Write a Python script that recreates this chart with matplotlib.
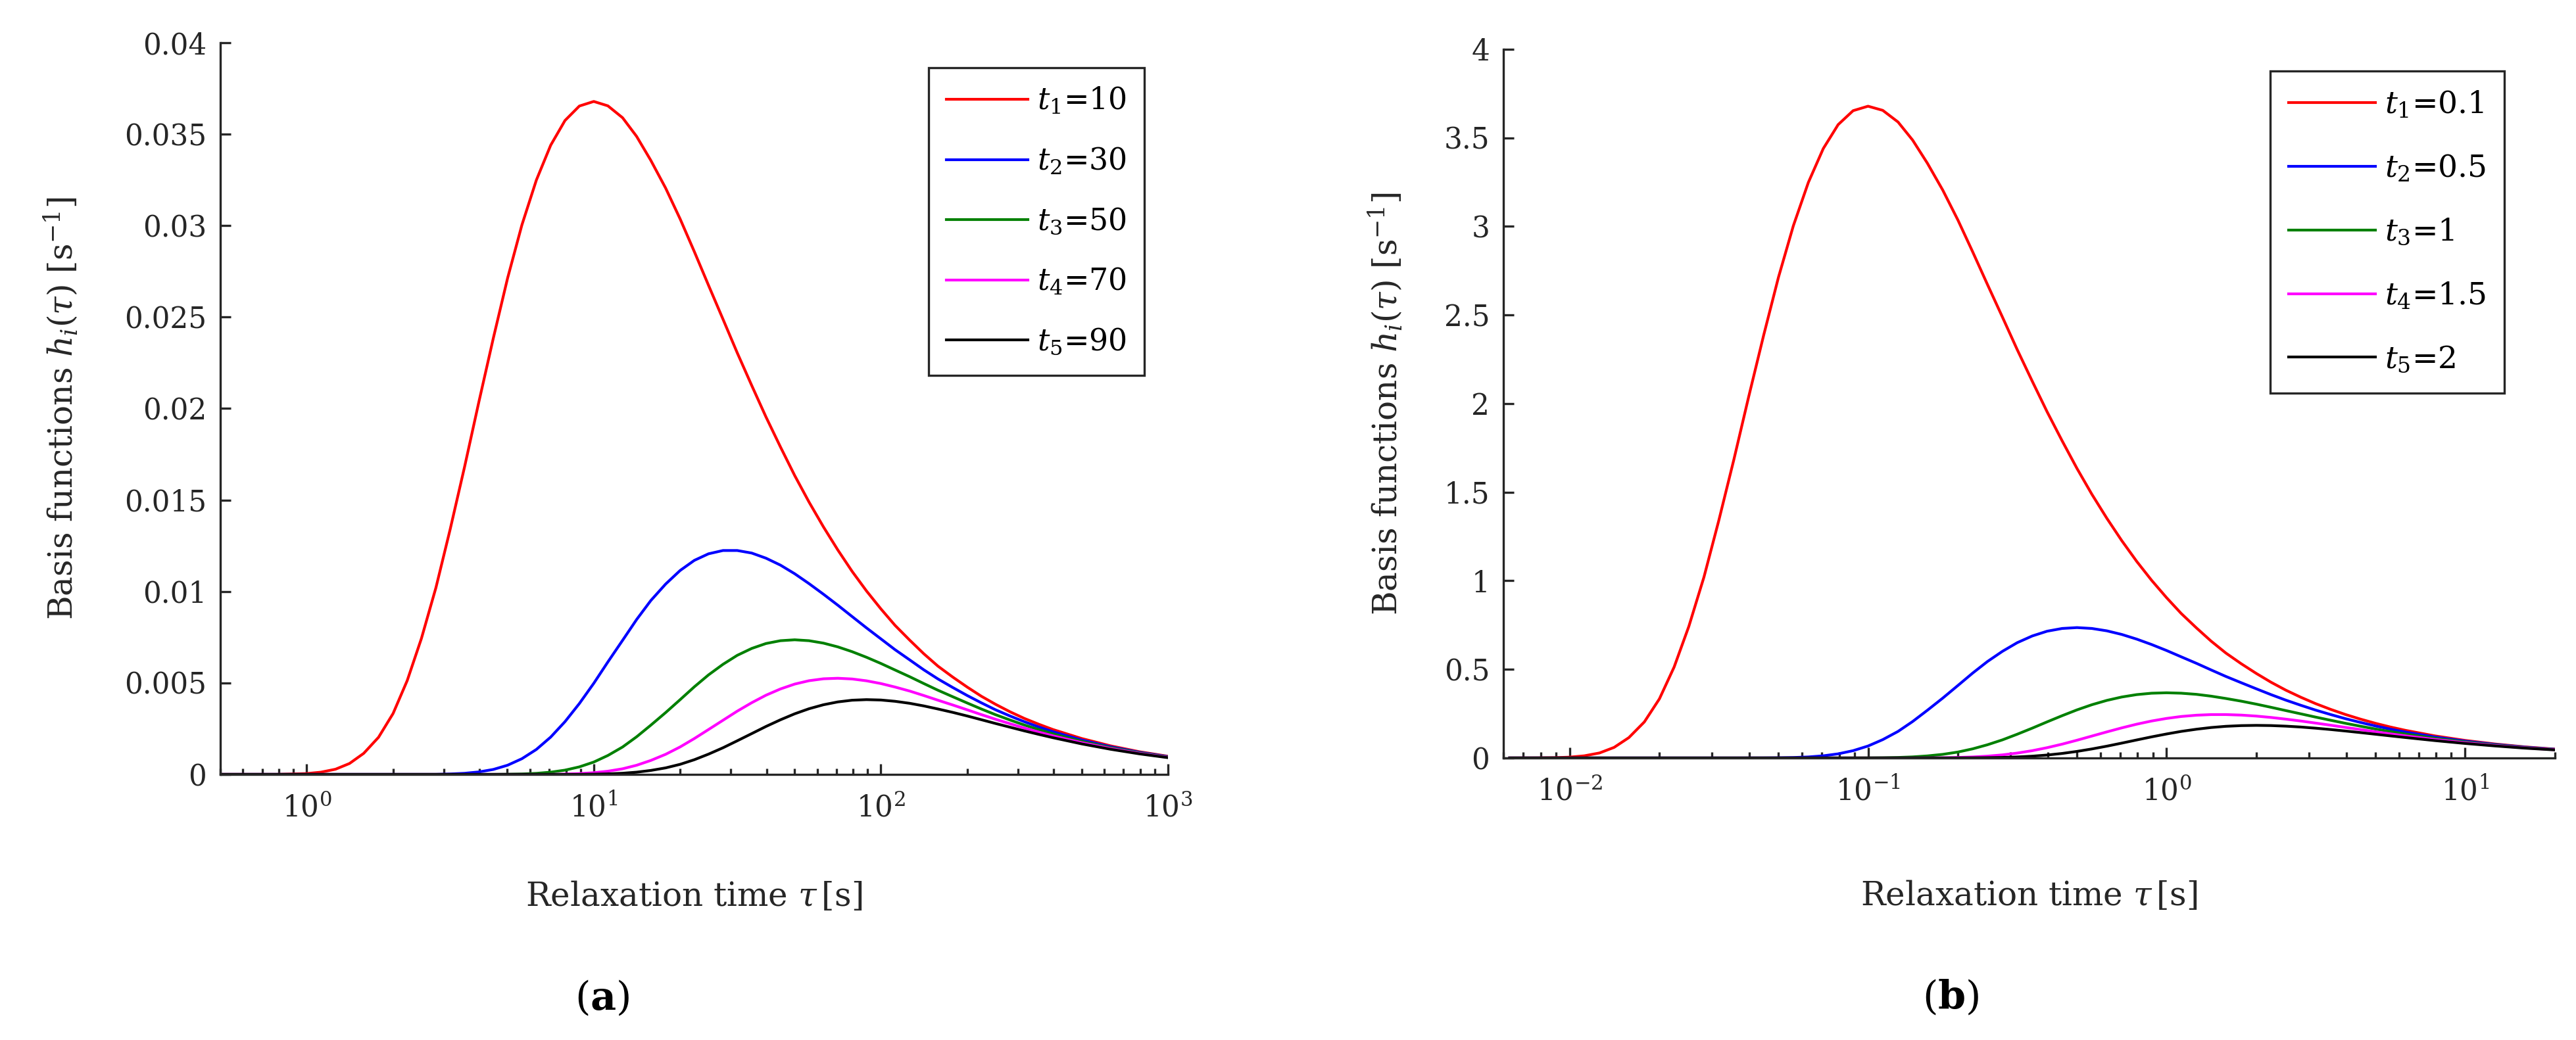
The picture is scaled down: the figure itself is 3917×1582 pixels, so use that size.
import numpy as np
import matplotlib as mpl
mpl.use('Agg')
import matplotlib.pyplot as plt
from matplotlib.ticker import LogLocator, MultipleLocator, FormatStrFormatter, NullFormatter

plt.rcParams['font.family'] = ['DejaVu Serif']
plt.rcParams['mathtext.fontset'] = 'dejavuserif'

#==============================================================
# panel (a): relaxation times and basis functions
tauA = [0.5, 0.63, 0.79,
        1.0, 1.12, 1.26, 1.41, 1.58, 1.78, 2.0, 2.24, 2.51, 2.82, 3.16, 3.55, 3.98, 4.47,
        5.01, 5.62, 6.31, 7.08, 7.94, 8.91, 10, 11.2, 12.6, 14.1, 15.8, 17.8, 20, 22.4,
        25.1, 28.2, 31.6, 35.5, 39.8, 44.7, 50.1, 56.2, 63.1, 70.8, 79.4, 89.1, 100, 112,
        126, 141, 158, 178, 200, 224, 251, 282, 316, 355,
        398, 501, 631, 794, 1000]
labA = ['$t_1$=10', '$t_2$=30', '$t_3$=50', '$t_4$=70', '$t_5$=90']
hA1 = [0.0, 0.0, 0.0,
       0.0000454, 0.00012, 0.000282, 0.000596, 0.00115, 0.00203, 0.00333, 0.00513,
       0.00743, 0.01021, 0.01339, 0.01683, 0.02037, 0.02386, 0.02713, 0.03004, 0.03249,
       0.03440, 0.03575, 0.03654, 0.03679, 0.03655, 0.03590, 0.03488, 0.03357, 0.03205,
       0.03036, 0.02858, 0.02674, 0.02488, 0.02305, 0.02126, 0.01954, 0.01790, 0.01634,
       0.01489, 0.01353, 0.01227, 0.01110, 0.01003, 0.00905, 0.00815, 0.00734, 0.00660,
       0.00592, 0.00532, 0.00477, 0.00427, 0.00383, 0.00342, 0.00306, 0.00274,
       0.00245, 0.00196, 0.00156, 0.00124, 0.00099]
hA2 = [0.0, 0.0, 0.0,
       0.0, 0.0, 0.0, 0.0, 0.0, 0.0, 0.0, 0.0, 0.0, 0.0,
       0.000024, 0.00006, 0.000134, 0.000271, 0.000501, 0.000857, 0.001363, 0.002040,
       0.002883, 0.003874, 0.004979, 0.006149, 0.007329, 0.008465, 0.009503, 0.010407,
       0.01115, 0.01170, 0.01206, 0.01224, 0.01224, 0.01210, 0.01182, 0.01144, 0.01097,
       0.01043, 0.00985, 0.00925, 0.00863, 0.00801, 0.00741, 0.00682, 0.00626, 0.00572,
       0.00522, 0.00475, 0.00431, 0.00391, 0.00353, 0.00319, 0.00288, 0.00259,
       0.00233, 0.00188, 0.00151, 0.00121, 0.00097]
hA3 = [0.0, 0.0, 0.0,
       0.0, 0.0, 0.0, 0.0, 0.0, 0.0, 0.0, 0.0, 0.0, 0.0, 0.0, 0.0, 0.0, 0.0,
       0.0000093, 0.0000245, 0.000057, 0.000121, 0.000232, 0.000411, 0.000674, 0.001034,
       0.001497, 0.002055, 0.002690, 0.003380, 0.004088, 0.004787, 0.005439, 0.006019,
       0.006508, 0.006886, 0.007155, 0.007309, 0.007358, 0.007309, 0.007176, 0.006971,
       0.006709, 0.006403, 0.006065, 0.005708, 0.005340, 0.004969, 0.004602, 0.004245,
       0.003901, 0.003573, 0.003262, 0.002971, 0.002700, 0.002448,
       0.002216, 0.001806, 0.001464, 0.001182, 0.000951]
hA4 = [0.0, 0.0, 0.0,
       0.0, 0.0, 0.0, 0.0, 0.0, 0.0, 0.0, 0.0, 0.0, 0.0, 0.0, 0.0, 0.0, 0.0, 0.0, 0.0,
       0.0, 0.0,
       0.000019, 0.0000436, 0.000091, 0.000174, 0.000306, 0.000499, 0.000762, 0.001098,
       0.001502, 0.001959, 0.002452, 0.002960, 0.003456, 0.003919, 0.004329, 0.004671,
       0.004937, 0.005121, 0.005226, 0.005255, 0.005216, 0.005116, 0.004966, 0.004776,
       0.004556, 0.004313, 0.004056, 0.003794, 0.003529, 0.003267, 0.003013, 0.002768,
       0.002534, 0.002314,
       0.002107, 0.001735, 0.001418, 0.001153, 0.000932]
hA5 = [0.0, 0.0, 0.0,
       0.0, 0.0, 0.0, 0.0, 0.0, 0.0, 0.0, 0.0, 0.0, 0.0, 0.0, 0.0, 0.0, 0.0, 0.0, 0.0,
       0.0, 0.0, 0.0, 0.0,
       0.000012, 0.0000293, 0.000062, 0.000121, 0.000216, 0.000356, 0.000551, 0.000802,
       0.001107, 0.001456, 0.001836, 0.002230, 0.002620, 0.002985, 0.003312, 0.003589,
       0.003807, 0.003962, 0.004055, 0.004087, 0.004066, 0.003996, 0.003886, 0.003744,
       0.003576, 0.003390, 0.003192, 0.002988, 0.002782, 0.002578, 0.002379, 0.002187,
       0.002004, 0.001667, 0.001374, 0.001124, 0.000914]

# panel (b)
tauB = [0.0063, 0.0071, 0.0079, 0.0089, 0.01, 0.0112, 0.0126, 0.0141, 0.0158, 0.0178,
        0.02, 0.0224, 0.0251, 0.0282, 0.0316, 0.0355, 0.0398, 0.0447, 0.0501, 0.0562,
        0.0631, 0.0708, 0.0794, 0.0891, 0.1, 0.112, 0.126, 0.141, 0.158, 0.178,
        0.2, 0.224, 0.251, 0.282, 0.316, 0.355, 0.398, 0.447, 0.501, 0.562,
        0.631, 0.708, 0.794, 0.891, 1.0, 1.12, 1.26, 1.41, 1.58, 1.78,
        2.0, 2.24, 2.51, 2.82, 3.16, 3.55, 3.98, 4.47, 5.01, 5.62,
        6.31, 7.94, 10, 12.6, 15.8, 20]
labB = ['$t_1$=0.1', '$t_2$=0.5', '$t_3$=1', '$t_4$=1.5', '$t_5$=2']
hB1 = [0.0, 0.0001, 0.00043, 0.0015, 0.00454, 0.0120, 0.0282, 0.0596, 0.1148, 0.2031,
       0.3337, 0.5130, 0.7431, 1.0211, 1.3386, 1.6827, 2.0375, 2.3863, 2.7131, 3.0040,
       3.2486, 3.4398, 3.5748, 3.6535, 3.6788, 3.6554, 3.5897, 3.4877, 3.3573, 3.2047,
       3.0362, 2.8577, 2.6737, 2.4883, 2.3049, 2.1261, 1.9539, 1.7897, 1.6344, 1.4886,
       1.3526, 1.2265, 1.1100, 1.0029, 0.9048, 0.8153, 0.7337, 0.6596, 0.5923, 0.5316,
       0.4767, 0.4272, 0.3826, 0.3424, 0.3064, 0.2740, 0.2450, 0.2189, 0.1956, 0.1747,
       0.1560, 0.1243, 0.0990, 0.0788, 0.0627, 0.0499]
hB2 = [0.0, 0.0, 0.0, 0.0, 0.0, 0.0, 0.0, 0.0, 0.0, 0.0,
       0.0, 0.0, 0.0, 0.0, 0.0, 0.0, 0.0001, 0.0003, 0.00093, 0.00245,
       0.0057, 0.0121, 0.0232, 0.0411, 0.0674, 0.1034, 0.1497, 0.2055, 0.2691, 0.3380,
       0.4090, 0.4787, 0.5439, 0.6019, 0.6506, 0.6886, 0.7154, 0.7309, 0.7358, 0.7309,
       0.7175, 0.6971, 0.6709, 0.6403, 0.6065, 0.5708, 0.5340, 0.4969, 0.4602, 0.4245,
       0.3901, 0.3573, 0.3263, 0.2971, 0.2700, 0.2448, 0.2215, 0.2002, 0.1806, 0.1627,
       0.1464, 0.1182, 0.0951, 0.0763, 0.0611, 0.0489]
hB3 = [0.0, 0.0, 0.0, 0.0, 0.0, 0.0, 0.0, 0.0, 0.0, 0.0,
       0.0, 0.0, 0.0, 0.0, 0.0, 0.0, 0.0, 0.0, 0.0, 0.0,
       0.0, 0.0, 0.00004, 0.00015, 0.00045, 0.0012, 0.00282, 0.00596, 0.01148, 0.02031,
       0.03337, 0.05130, 0.07431, 0.1021, 0.1339, 0.1683, 0.2037, 0.2386, 0.2713, 0.3004,
       0.3249, 0.3440, 0.3575, 0.3654, 0.3679, 0.3655, 0.3590, 0.3488, 0.3357, 0.3205,
       0.3036, 0.2858, 0.2674, 0.2488, 0.2305, 0.2126, 0.1954, 0.1790, 0.1634, 0.1489,
       0.1353, 0.1110, 0.0905, 0.0734, 0.0592, 0.0477]
hB4 = [0.0, 0.0, 0.0, 0.0, 0.0, 0.0, 0.0, 0.0, 0.0, 0.0,
       0.0, 0.0, 0.0, 0.0, 0.0, 0.0, 0.0, 0.0, 0.0, 0.0,
       0.0, 0.0, 0.0, 0.0, 0.0, 0.0, 0.00005, 0.00017, 0.00049, 0.00122,
       0.00272, 0.00550, 0.01014, 0.01732, 0.02754, 0.04111, 0.05802, 0.07791, 0.1000, 0.1235,
       0.1471, 0.1698, 0.1905, 0.2085, 0.2231, 0.2341, 0.2413, 0.2448, 0.2449, 0.2419,
       0.2363, 0.2286, 0.2191, 0.2084, 0.1968, 0.1847, 0.1723, 0.1600, 0.1479, 0.1362,
       0.1250, 0.1042, 0.0861, 0.0705, 0.0574, 0.0465]
hB5 = [0.0, 0.0, 0.0, 0.0, 0.0, 0.0, 0.0, 0.0, 0.0, 0.0,
       0.0, 0.0, 0.0, 0.0, 0.0, 0.0, 0.0, 0.0, 0.0, 0.0,
       0.0, 0.0, 0.0, 0.0, 0.0, 0.0, 0.0, 0.0, 0.00002, 0.00007,
       0.00022, 0.00059, 0.00139, 0.00294, 0.00566, 0.01005, 0.01650, 0.02544, 0.03691, 0.05075,
       0.06656, 0.08377, 0.1015, 0.1190, 0.1353, 0.1499, 0.1622, 0.1718, 0.1786, 0.1826,
       0.1839, 0.1828, 0.1795, 0.1745, 0.1680, 0.1604, 0.1520, 0.1431, 0.1339, 0.1246,
       0.1154, 0.0979, 0.0819, 0.0678, 0.0556, 0.0453]

clrs = ['#ff0000', '#0000ff', '#008000', '#ff00ff', '#000000']
axc = '#262626'
#==============================================================

def drawPanel(ax, tau, curves, labels, xlim, ylim, ystep, legpos, legfs, legsp, hlen,
              ylx, xly):
    for hh, cc, lb in zip(curves, clrs, labels):
        ax.plot(tau, hh, '-', color=cc, lw=1.0, label=lb)
    ax.set_xscale('log')
    ax.set_xlim(xlim)
    ax.set_ylim(ylim)
    ax.yaxis.set_major_locator(MultipleLocator(ystep))
    ax.yaxis.set_major_formatter(FormatStrFormatter('%g'))
    ax.xaxis.set_major_locator(LogLocator(base=10))
    ax.xaxis.set_minor_locator(LogLocator(base=10, subs=np.arange(2, 10)))
    ax.xaxis.set_minor_formatter(NullFormatter())
    for sp in ['top', 'right']:
        ax.spines[sp].set_visible(False)
    for sp in ['left', 'bottom']:
        ax.spines[sp].set_linewidth(0.8)
        ax.spines[sp].set_color(axc)
    ax.tick_params(which='major', direction='in', length=3.8, width=0.8, color=axc,
                   labelcolor=axc, labelsize=10.5)
    ax.tick_params(which='minor', direction='in', length=2.2, width=0.8, color=axc)
    ax.tick_params(axis='x', which='major', pad=7)
    ax.tick_params(axis='y', which='major', pad=5)
    ax.set_xlabel(r'Relaxation time $\tau\,$[s]', fontsize=12, color=axc)
    ax.set_ylabel(r'Basis functions $h_i(\tau)$ [s$^{-1}$]', fontsize=12, color=axc)
    ax.yaxis.set_label_coords(ylx, 0.5)
    ax.xaxis.set_label_coords(0.5, xly)
    leg = ax.legend(loc='upper right', bbox_to_anchor=legpos, fontsize=legfs, frameon=True,
                    fancybox=False, framealpha=1, edgecolor=axc, handlelength=hlen,
                    handletextpad=0.3, labelspacing=legsp, borderpad=0.6, borderaxespad=0)
    leg.get_frame().set_linewidth(0.8)
    for tx in leg.get_texts():
        tx.set_color('black')


fig = plt.figure(figsize=(3917/300, 1582/300), dpi=300)
ax1 = fig.add_axes([0.0855, 0.2554, 0.3679, 0.7035])
ax2 = fig.add_axes([0.5836, 0.2712, 0.4082, 0.6814])

drawPanel(ax1, tauA, [hA1, hA2, hA3, hA4, hA5], labA, (0.5, 1000), (0, 0.04), 0.005,
          (0.975, 0.966), 11.0, 1.0, 2.7, -0.148, -0.145)
drawPanel(ax2, tauB, [hB1, hB2, hB3, hB4, hB5], labB, (0.006, 20), (0, 4), 0.5,
          (0.952, 0.969), 11.3, 1.08, 2.8, -0.094, -0.172)

fig.text(916/3917, 1 - 1518/1582, r'($\mathbf{a}$)', fontsize=14.5, ha='center', va='center')
fig.text(2966/3917, 1 - 1517/1582, r'($\mathbf{b}$)', fontsize=14.5, ha='center', va='center')

plt.savefig('out.png', dpi=300)
